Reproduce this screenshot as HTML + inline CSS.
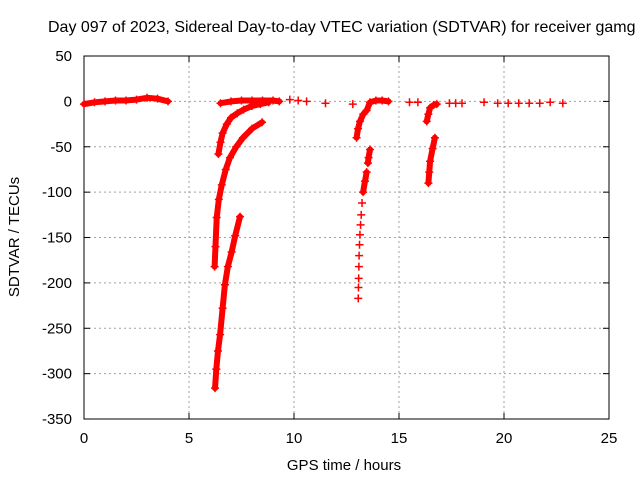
<!DOCTYPE html>
<html><head><meta charset="utf-8"><style>
body{margin:0;background:#fff}
svg{display:block;font-family:"Liberation Sans",sans-serif}
</style></head><body>
<svg id="chart" width="640" height="480" viewBox="0 0 640 480">
<rect x="0" y="0" width="640" height="480" fill="#fff"/>
<g id="grid"></g>
<rect x="84" y="56" width="525" height="363" fill="none" stroke="#000" stroke-width="1"/>
<g id="ticks"></g>
<g id="series"></g>
<text x="48" y="32" font-size="16" fill="#000">Day 097 of 2023, Sidereal Day-to-day VTEC variation (SDTVAR) for receiver gamg</text>
<text x="344" y="470" font-size="15" text-anchor="middle">GPS time / hours</text>
<text transform="translate(19,237) rotate(-90)" font-size="15" text-anchor="middle">SDTVAR / TECUs</text>
</svg>
<script>
const xTicks=[0,5,10,15,20,25];
const yTicks=[50,0,-50,-100,-150,-200,-250,-300,-350];
// [hours, TECU] per trace segment
const seg1=[[0,-3],[0.5,-1],[1,0],[1.5,1],[2,1],[2.5,2],[3,4],[3.5,3],[4,0]];
const seg2=[[6.5,-2],[7,0],[7.5,1],[8,1],[8.5,1],[9,1],[9.3,0]];
const seg3=[[6.4,-58],[6.5,-45],[6.6,-35],[6.8,-25],[7,-18],[7.3,-13],[7.6,-9],[8,-5],[8.4,-3],[8.8,-1]];
const seg4=[[6.22,-182],[6.26,-160],[6.32,-128],[6.42,-108],[6.56,-92],[6.75,-75],[6.95,-62],[7.25,-50],[7.57,-40],[8,-30],[8.48,-23]];
const seg5=[[6.24,-316],[6.3,-295],[6.38,-275],[6.48,-257],[6.6,-228],[6.71,-202],[6.85,-182],[7.03,-166],[7.2,-148],[7.43,-127]];
const seg6=[[9.8,2],[10.2,1],[10.6,0],[11.5,-2],[12.8,-3]];
const seg7=[[13.06,-217],[13.07,-205],[13.08,-195],[13.09,-182],[13.1,-170],[13.12,-158],[13.14,-147],[13.17,-136],[13.2,-125],[13.24,-112]];
const seg7b=[[13.29,-100],[13.38,-88],[13.46,-78]];
const seg7c=[[13.52,-68],[13.55,-62],[13.62,-53]];
const seg8=[[12.98,-40],[13.05,-30],[13.14,-22],[13.3,-14],[13.46,-10],[13.62,-1],[13.9,1],[14.2,1],[14.5,0]];
const seg9=[[16.4,-90],[16.44,-78],[16.48,-66],[16.6,-52],[16.71,-40]];
const seg10=[[16.32,-22],[16.4,-14],[16.48,-7],[16.65,-4],[16.8,-3]];
const seg11=[[15.5,-1],[15.9,-1],[17.4,-2],[17.7,-2],[18,-2],[19.05,-1],[19.7,-2],[20.2,-2],[20.7,-2],[21.2,-2],[21.7,-2],[22.2,-1],[22.8,-2]];
const thick=[seg1,seg2,seg3,seg4,seg5,seg7b,seg7c,seg8,seg9,seg10];
const allSegs=[seg1,seg2,seg3,seg4,seg5,seg6,seg7,seg7b,seg7c,seg8,seg9,seg10,seg11];

const X=h=>84+21*h;
const Y=v=>101.4-0.9075*v;
const NS="http://www.w3.org/2000/svg";
const grid=document.getElementById('grid'),ticks=document.getElementById('ticks'),ser=document.getElementById('series');
function mk(tag,a,p){const e=document.createElementNS(NS,tag);for(const k in a)e.setAttribute(k,a[k]);p.appendChild(e);return e;}
xTicks.forEach(t=>{
  const x=X(t);
  if(t>0&&t<25){const g=mk('line',{x1:x,y1:56,x2:x,y2:419,stroke:'#a0a0a0','stroke-dasharray':'2,3'},grid);
  
  }
  mk('line',{x1:x,y1:419,x2:x,y2:413,stroke:'#000'},ticks);
  mk('line',{x1:x,y1:56,x2:x,y2:62,stroke:'#000'},ticks);
  const l=mk('text',{x:x,y:443,'font-size':15,'text-anchor':'middle'},ticks);l.textContent=t;
  
  
});
yTicks.forEach(t=>{
  const y=Y(t);
  if(t<50&&t>-350){const g=mk('line',{x1:84,y1:y,x2:609,y2:y,stroke:'#a0a0a0','stroke-dasharray':'2,3'},grid);
  
  }
  mk('line',{x1:84,y1:y,x2:90,y2:y,stroke:'#000'},ticks);
  mk('line',{x1:609,y1:y,x2:603,y2:y,stroke:'#000'},ticks);
  const l=mk('text',{x:72,y:y+5,'font-size':15,'text-anchor':'end'},ticks);l.textContent=t;
  
  
});
thick.forEach(s=>{
  const p=mk('polyline',{points:s.map(d=>X(d[0])+','+Y(d[1])).join(' '),fill:'none',stroke:'#f00','stroke-width':6,'stroke-linejoin':'round','stroke-linecap':'round'},ser);
  
  
});
allSegs.forEach(s=>s.forEach(d=>{
  const x=X(d[0]),y=Y(d[1]);
  const m=mk('path',{d:`M${x-4},${y}H${x+4}M${x},${y-4}V${y+4}`,stroke:'#f00','stroke-width':1.5},ser);
  
  
}));
</script>
</body></html>
